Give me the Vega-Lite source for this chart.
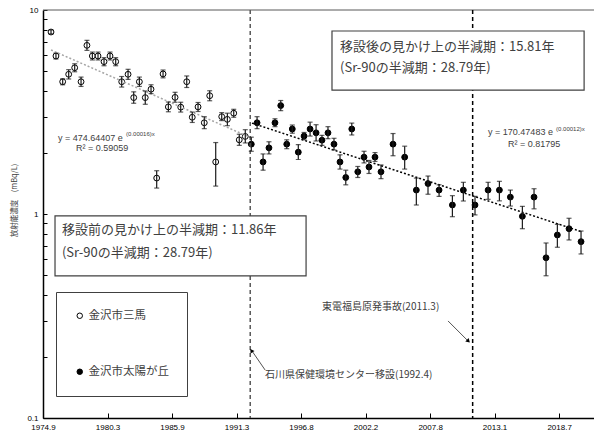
{
  "$schema": "https://vega.github.io/schema/vega-lite/v6.json",
  "width": 551,
  "height": 408,
  "autosize": {"type": "none"},
  "padding": {"left": 43, "top": 10, "right": 0, "bottom": 19},
  "background": "white",
  "config": {"view": {"stroke": null}, "font": "Liberation Sans"},
  "datasets": {
    "one": [{}],
    "obs": [
      {"series": "金沢市三馬", "year": 1975.42, "value": 7.80, "lo": 7.63, "hi": 7.98},
      {"series": "金沢市三馬", "year": 1975.84, "value": 5.95, "lo": 5.75, "hi": 6.15},
      {"series": "金沢市三馬", "year": 1976.41, "value": 4.45, "lo": 4.30, "hi": 4.60},
      {"series": "金沢市三馬", "year": 1976.92, "value": 4.84, "lo": 4.59, "hi": 5.10},
      {"series": "金沢市三馬", "year": 1977.43, "value": 5.21, "lo": 4.98, "hi": 5.45},
      {"series": "金沢市三馬", "year": 1977.97, "value": 4.45, "lo": 4.22, "hi": 4.69},
      {"series": "金沢市三馬", "year": 1978.47, "value": 6.71, "lo": 6.34, "hi": 7.10},
      {"series": "金沢市三馬", "year": 1978.93, "value": 5.95, "lo": 5.69, "hi": 6.22},
      {"series": "金沢市三馬", "year": 1979.41, "value": 5.95, "lo": 5.69, "hi": 6.22},
      {"series": "金沢市三馬", "year": 1979.92, "value": 5.58, "lo": 5.33, "hi": 5.84},
      {"series": "金沢市三馬", "year": 1980.43, "value": 5.95, "lo": 5.69, "hi": 6.22},
      {"series": "金沢市三馬", "year": 1980.91, "value": 5.58, "lo": 5.33, "hi": 5.84},
      {"series": "金沢市三馬", "year": 1981.42, "value": 4.45, "lo": 4.19, "hi": 4.72},
      {"series": "金沢市三馬", "year": 1981.96, "value": 4.84, "lo": 4.57, "hi": 5.12},
      {"series": "金沢市三馬", "year": 1982.44, "value": 3.72, "lo": 3.49, "hi": 3.97},
      {"series": "金沢市三馬", "year": 1982.92, "value": 4.45, "lo": 4.22, "hi": 4.69},
      {"series": "金沢市三馬", "year": 1983.42, "value": 3.72, "lo": 3.45, "hi": 4.01},
      {"series": "金沢市三馬", "year": 1983.91, "value": 4.09, "lo": 3.89, "hi": 4.30},
      {"series": "金沢市三馬", "year": 1984.39, "value": 1.50, "lo": 1.34, "hi": 1.63},
      {"series": "金沢市三馬", "year": 1984.93, "value": 4.86, "lo": 4.65, "hi": 5.08},
      {"series": "金沢市三馬", "year": 1985.38, "value": 3.35, "lo": 3.17, "hi": 3.54},
      {"series": "金沢市三馬", "year": 1985.95, "value": 3.73, "lo": 3.53, "hi": 3.95},
      {"series": "金沢市三馬", "year": 1986.43, "value": 3.34, "lo": 3.16, "hi": 3.53},
      {"series": "金沢市三馬", "year": 1986.94, "value": 4.45, "lo": 4.17, "hi": 4.75},
      {"series": "金沢市三馬", "year": 1987.41, "value": 2.98, "lo": 2.81, "hi": 3.16},
      {"series": "金沢市三馬", "year": 1987.90, "value": 3.35, "lo": 3.18, "hi": 3.52},
      {"series": "金沢市三馬", "year": 1988.43, "value": 2.80, "lo": 2.62, "hi": 3.00},
      {"series": "金沢市三馬", "year": 1988.89, "value": 3.80, "lo": 3.59, "hi": 4.02},
      {"series": "金沢市三馬", "year": 1989.40, "value": 1.80, "lo": 1.37, "hi": 2.24},
      {"series": "金沢市三馬", "year": 1989.91, "value": 3.00, "lo": 2.87, "hi": 3.14},
      {"series": "金沢市三馬", "year": 1990.39, "value": 2.91, "lo": 2.71, "hi": 3.12},
      {"series": "金沢市三馬", "year": 1990.93, "value": 3.12, "lo": 2.98, "hi": 3.26},
      {"series": "金沢市三馬", "year": 1991.40, "value": 2.31, "lo": 2.17, "hi": 2.46},
      {"series": "金沢市三馬", "year": 1991.91, "value": 2.40, "lo": 2.23, "hi": 2.59},
      {"series": "金沢市太陽が丘", "year": 1992.42, "value": 2.20, "lo": 2.03, "hi": 2.38},
      {"series": "金沢市太陽が丘", "year": 1992.91, "value": 2.80, "lo": 2.62, "hi": 3.00},
      {"series": "金沢市太陽が丘", "year": 1993.42, "value": 1.80, "lo": 1.64, "hi": 1.97},
      {"series": "金沢市太陽が丘", "year": 1993.92, "value": 2.11, "lo": 1.97, "hi": 2.26},
      {"series": "金沢市太陽が丘", "year": 1994.43, "value": 2.80, "lo": 2.68, "hi": 2.93},
      {"series": "金沢市太陽が丘", "year": 1994.92, "value": 3.40, "lo": 3.21, "hi": 3.60},
      {"series": "金沢市太陽が丘", "year": 1995.43, "value": 2.20, "lo": 2.09, "hi": 2.31},
      {"series": "金沢市太陽が丘", "year": 1995.90, "value": 2.61, "lo": 2.49, "hi": 2.73},
      {"series": "金沢市太陽が丘", "year": 1996.41, "value": 2.01, "lo": 1.85, "hi": 2.19},
      {"series": "金沢市太陽が丘", "year": 1996.90, "value": 2.41, "lo": 2.31, "hi": 2.51},
      {"series": "金沢市太陽が丘", "year": 1997.41, "value": 2.61, "lo": 2.41, "hi": 2.82},
      {"series": "金沢市太陽が丘", "year": 1997.92, "value": 2.50, "lo": 2.28, "hi": 2.74},
      {"series": "金沢市太陽が丘", "year": 1998.42, "value": 2.30, "lo": 2.17, "hi": 2.43},
      {"series": "金沢市太陽が丘", "year": 1998.93, "value": 2.50, "lo": 2.34, "hi": 2.68},
      {"series": "金沢市太陽が丘", "year": 1999.44, "value": 2.20, "lo": 2.06, "hi": 2.35},
      {"series": "金沢市太陽が丘", "year": 1999.95, "value": 1.80, "lo": 1.66, "hi": 1.95},
      {"series": "金沢市太陽が丘", "year": 2000.44, "value": 1.51, "lo": 1.39, "hi": 1.64},
      {"series": "金沢市太陽が丘", "year": 2000.95, "value": 2.61, "lo": 2.44, "hi": 2.79},
      {"series": "金沢市太陽が丘", "year": 2001.46, "value": 1.61, "lo": 1.51, "hi": 1.71},
      {"series": "金沢市太陽が丘", "year": 2001.99, "value": 1.90, "lo": 1.78, "hi": 2.03},
      {"series": "金沢市太陽が丘", "year": 2002.41, "value": 1.70, "lo": 1.58, "hi": 1.83},
      {"series": "金沢市太陽が丘", "year": 2002.92, "value": 1.90, "lo": 1.81, "hi": 2.00},
      {"series": "金沢市太陽が丘", "year": 2003.43, "value": 1.61, "lo": 1.49, "hi": 1.74},
      {"series": "金沢市太陽が丘", "year": 2004.45, "value": 2.20, "lo": 1.93, "hi": 2.48},
      {"series": "金沢市太陽が丘", "year": 2005.44, "value": 1.90, "lo": 1.66, "hi": 2.15},
      {"series": "金沢市太陽が丘", "year": 2006.43, "value": 1.31, "lo": 1.107, "hi": 1.50},
      {"series": "金沢市太陽が丘", "year": 2007.42, "value": 1.41, "lo": 1.25, "hi": 1.535},
      {"series": "金沢市太陽が丘", "year": 2008.36, "value": 1.31, "lo": 1.22, "hi": 1.39},
      {"series": "金沢市太陽が丘", "year": 2009.49, "value": 1.107, "lo": 0.97, "hi": 1.23},
      {"series": "金沢市太陽が丘", "year": 2010.42, "value": 1.31, "lo": 1.158, "hi": 1.43},
      {"series": "金沢市太陽が丘", "year": 2011.41, "value": 1.107, "lo": 0.99, "hi": 1.22},
      {"series": "金沢市太陽が丘", "year": 2012.52, "value": 1.31, "lo": 1.18, "hi": 1.43},
      {"series": "金沢市太陽が丘", "year": 2013.48, "value": 1.31, "lo": 1.16, "hi": 1.446},
      {"series": "金沢市太陽が丘", "year": 2014.41, "value": 1.21, "lo": 1.094, "hi": 1.31},
      {"series": "金沢市太陽が丘", "year": 2015.43, "value": 0.974, "lo": 0.847, "hi": 1.09},
      {"series": "金沢市太陽が丘", "year": 2016.42, "value": 1.21, "lo": 1.06, "hi": 1.33},
      {"series": "金沢市太陽が丘", "year": 2017.44, "value": 0.610, "lo": 0.498, "hi": 0.721},
      {"series": "金沢市太陽が丘", "year": 2018.40, "value": 0.789, "lo": 0.687, "hi": 0.890},
      {"series": "金沢市太陽が丘", "year": 2019.39, "value": 0.847, "lo": 0.746, "hi": 0.953},
      {"series": "金沢市太陽が丘", "year": 2020.41, "value": 0.732, "lo": 0.637, "hi": 0.825}
    ],
    "trendA": [
      {"year": 1975.42, "value": 6.37},
      {"year": 1992.23, "value": 2.386}
    ],
    "trendB": [
      {"year": 1992.48, "value": 2.79},
      {"year": 2020.5, "value": 0.817}
    ]
  },
  "layer": [
    {
      "data": {"name": "obs"},
      "mark": {"type": "point", "shape": "circle", "filled": true, "stroke": "black", "strokeWidth": 1, "opacity": 1, "size": 34},
      "encoding": {
        "x": {
          "field": "year", "type": "quantitative",
          "scale": {"domain": [1974.74, 2021.51], "zero": false, "nice": false},
          "axis": {
            "title": null,
            "values": [1974.74, 1980.22, 1985.69, 1991.17, 1996.64, 2002.12, 2007.60, 2013.07, 2018.55],
            "labelExpr": "floor(datum.value) + '.' + (floor((datum.value - floor(datum.value)) * 12) + 1)",
            "grid": false,
            "domainColor": "#000000",
            "domainWidth": 1.5,
            "tickColor": "#000000",
            "tickSize": -5,
            "labelFontSize": 8,
            "labelColor": "#000000",
            "labelPadding": 10,
            "labelFlush": false,
            "labelOverlap": false
          }
        },
        "y": {
          "field": "value", "type": "quantitative",
          "scale": {"type": "log", "domain": [0.1, 10], "nice": false},
          "axis": {
            "title": "放射能濃度　(mBq/L)",
            "values": [0.1, 0.2, 0.3, 0.4, 0.5, 0.6, 0.7, 0.8, 0.9, 1, 2, 3, 4, 5, 6, 7, 8, 9, 10],
            "labelExpr": "datum.value == 10 ? '10' : datum.value == 1 ? '1' : datum.value == 0.1 ? '0.1' : ''",
            "grid": false,
            "domainColor": "#000000",
            "domainWidth": 1.5,
            "tickColor": "#000000",
            "tickSize": -4,
            "labelFontSize": 8,
            "labelColor": "#000000",
            "labelPadding": 9,
            "labelOverlap": false,
            "titleFont": "Noto Sans CJK JP",
            "titleFontSize": 7.5,
            "titleFontWeight": "normal",
            "titleColor": "#404040",
            "titleX": -29,
            "titleY": 190,
            "titleAngle": -90,
            "titleAlign": "center",
            "titleBaseline": "middle"
          }
        },
        "fill": {
          "field": "series", "type": "nominal",
          "scale": {"domain": ["金沢市三馬", "金沢市太陽が丘"], "range": ["white", "black"]},
          "legend": {
            "title": null,
            "orient": "none",
            "legendX": 13,
            "legendY": 282,
            "strokeColor": "#404040",
            "fillColor": "white",
            "padding": 18,
            "rowPadding": 43,
            "labelFont": "Noto Sans CJK JP",
            "labelFontSize": 11.5,
            "labelColor": "#404040",
            "labelOffset": 3,
            "symbolType": "circle",
            "symbolSize": 30,
            "symbolStrokeColor": "black",
            "symbolStrokeWidth": 1
          }
        }
      }
    },
    {
      "data": {"name": "one"},
      "mark": {"type": "rule", "color": "#595959", "strokeWidth": 1},
      "encoding": {"y": {"datum": 10, "type": "quantitative"}}
    },
    {
      "data": {"name": "one"},
      "mark": {"type": "rule", "color": "#595959", "strokeWidth": 1.5, "strokeDash": [4, 3]},
      "encoding": {"x": {"datum": 1992.33, "type": "quantitative"}}
    },
    {
      "data": {"name": "one"},
      "mark": {"type": "rule", "color": "#000000", "strokeWidth": 1.5, "strokeDash": [4, 3]},
      "encoding": {"x": {"datum": 2011.21, "type": "quantitative"}}
    },
    {
      "data": {"name": "trendA"},
      "mark": {"type": "line", "color": "#a6a6a6", "strokeWidth": 1.5, "strokeDash": [2, 2]},
      "encoding": {
        "x": {"field": "year", "type": "quantitative"},
        "y": {"field": "value", "type": "quantitative"}
      }
    },
    {
      "data": {"name": "trendB"},
      "mark": {"type": "line", "color": "#000000", "strokeWidth": 1.5, "strokeDash": [2, 2]},
      "encoding": {
        "x": {"field": "year", "type": "quantitative"},
        "y": {"field": "value", "type": "quantitative"}
      }
    },
    {
      "data": {"name": "obs"},
      "mark": {"type": "rule", "color": "#1a1a1a", "strokeWidth": 1.2},
      "encoding": {
        "x": {"field": "year", "type": "quantitative"},
        "y": {"field": "lo", "type": "quantitative"},
        "y2": {"field": "hi"}
      }
    },
    {
      "data": {"name": "obs"},
      "mark": {"type": "tick", "orient": "horizontal", "color": "#1a1a1a", "size": 5, "thickness": 1.2},
      "encoding": {
        "x": {"field": "year", "type": "quantitative"},
        "y": {"field": "lo", "type": "quantitative"}
      }
    },
    {
      "data": {"name": "obs"},
      "mark": {"type": "tick", "orient": "horizontal", "color": "#1a1a1a", "size": 5, "thickness": 1.2},
      "encoding": {
        "x": {"field": "year", "type": "quantitative"},
        "y": {"field": "hi", "type": "quantitative"}
      }
    },
    {
      "data": {"name": "one"},
      "mark": {"type": "rect", "fill": "white", "stroke": "#404040", "strokeWidth": 1.2},
      "encoding": {
        "x": {"datum": 1999.27, "type": "quantitative"},
        "x2": {"datum": 2020.67},
        "y": {"datum": 7.89, "type": "quantitative"},
        "y2": {"datum": 4.05}
      }
    },
    {
      "data": {"name": "one"},
      "mark": {"type": "rect", "fill": "white", "stroke": "#404040", "strokeWidth": 1.2},
      "encoding": {
        "x": {"datum": 1975.76, "type": "quantitative"},
        "x2": {"datum": 1997.07},
        "y": {"datum": 0.978, "type": "quantitative"},
        "y2": {"datum": 0.497}
      }
    },
    {
      "data": {"name": "one"},
      "mark": {"type": "text", "align": "left", "baseline": "middle", "font": "Noto Sans CJK JP", "fontSize": 13, "color": "#404040"},
      "encoding": {
        "x": {"datum": 1999.95, "type": "quantitative"},
        "y": {"datum": 6.59, "type": "quantitative"},
        "text": {"value": "移設後の見かけ上の半減期：15.81年"}
      }
    },
    {
      "data": {"name": "one"},
      "mark": {"type": "text", "align": "left", "baseline": "middle", "font": "Noto Sans CJK JP", "fontSize": 13, "color": "#404040"},
      "encoding": {
        "x": {"datum": 1999.95, "type": "quantitative"},
        "y": {"datum": 5.20, "type": "quantitative"},
        "text": {"value": "(Sr-90の半減期：28.79年)"}
      }
    },
    {
      "data": {"name": "one"},
      "mark": {"type": "text", "align": "left", "baseline": "middle", "font": "Noto Sans CJK JP", "fontSize": 13, "color": "#404040"},
      "encoding": {
        "x": {"datum": 1976.35, "type": "quantitative"},
        "y": {"datum": 0.835, "type": "quantitative"},
        "text": {"value": "移設前の見かけ上の半減期：11.86年"}
      }
    },
    {
      "data": {"name": "one"},
      "mark": {"type": "text", "align": "left", "baseline": "middle", "font": "Noto Sans CJK JP", "fontSize": 13, "color": "#404040"},
      "encoding": {
        "x": {"datum": 1976.35, "type": "quantitative"},
        "y": {"datum": 0.644, "type": "quantitative"},
        "text": {"value": "(Sr-90の半減期：28.79年)"}
      }
    },
    {
      "data": {"name": "one"},
      "mark": {"type": "text", "align": "left", "baseline": "middle", "font": "Noto Sans CJK JP", "fontSize": 10, "color": "#404040"},
      "encoding": {
        "x": {"datum": 1993.59, "type": "quantitative"},
        "y": {"datum": 0.1625, "type": "quantitative"},
        "text": {"value": "石川県保健環境センター移設(1992.4)"}
      }
    },
    {
      "data": {"name": "one"},
      "mark": {"type": "text", "align": "left", "baseline": "middle", "font": "Noto Sans CJK JP", "fontSize": 10, "color": "#404040"},
      "encoding": {
        "x": {"datum": 1998.42, "type": "quantitative"},
        "y": {"datum": 0.350, "type": "quantitative"},
        "text": {"value": "東電福島原発事故(2011.3)"}
      }
    },
    {
      "data": {"name": "one"},
      "mark": {"type": "rule", "color": "#262626", "strokeWidth": 0.8},
      "encoding": {
        "x": {"datum": 1993.59, "type": "quantitative"},
        "x2": {"datum": 1992.41},
        "y": {"datum": 0.172, "type": "quantitative"},
        "y2": {"datum": 0.216}
      }
    },
    {
      "data": {"name": "one"},
      "mark": {"type": "point", "shape": "triangle-up", "filled": true, "color": "#000000", "size": 22, "angle": 326, "opacity": 1},
      "encoding": {
        "x": {"datum": 1992.43, "type": "quantitative"},
        "y": {"datum": 0.214, "type": "quantitative"}
      }
    },
    {
      "data": {"name": "one"},
      "mark": {"type": "rule", "color": "#262626", "strokeWidth": 0.8},
      "encoding": {
        "x": {"datum": 2009.12, "type": "quantitative"},
        "x2": {"datum": 2010.90},
        "y": {"datum": 0.299, "type": "quantitative"},
        "y2": {"datum": 0.236}
      }
    },
    {
      "data": {"name": "one"},
      "mark": {"type": "point", "shape": "triangle-up", "filled": true, "color": "#000000", "size": 22, "angle": 135, "opacity": 1},
      "encoding": {
        "x": {"datum": 2010.85, "type": "quantitative"},
        "y": {"datum": 0.238, "type": "quantitative"}
      }
    },
    {
      "data": {"name": "one"},
      "mark": {"type": "text", "align": "left", "baseline": "middle", "fontSize": 9, "color": "#404040"},
      "encoding": {
        "x": {"datum": 1976.01, "type": "quantitative"},
        "y": {"datum": 2.371, "type": "quantitative"},
        "text": {"value": "y = 474.64407 e"}
      }
    },
    {
      "data": {"name": "one"},
      "mark": {"type": "text", "align": "left", "baseline": "middle", "fontSize": 6, "color": "#404040"},
      "encoding": {
        "x": {"datum": 1981.79, "type": "quantitative"},
        "y": {"datum": 2.466, "type": "quantitative"},
        "text": {"value": "(0.00016)x"}
      }
    },
    {
      "data": {"name": "one"},
      "mark": {"type": "text", "align": "left", "baseline": "middle", "fontSize": 9, "color": "#404040"},
      "encoding": {
        "x": {"datum": 1977.54, "type": "quantitative"},
        "y": {"datum": 2.106, "type": "quantitative"},
        "text": {"value": "R² = 0.59059"}
      }
    },
    {
      "data": {"name": "one"},
      "mark": {"type": "text", "align": "left", "baseline": "middle", "fontSize": 9, "color": "#404040"},
      "encoding": {
        "x": {"datum": 2012.52, "type": "quantitative"},
        "y": {"datum": 2.52, "type": "quantitative"},
        "text": {"value": "y = 170.47483 e"}
      }
    },
    {
      "data": {"name": "one"},
      "mark": {"type": "text", "align": "left", "baseline": "middle", "fontSize": 6, "color": "#404040"},
      "encoding": {
        "x": {"datum": 2018.29, "type": "quantitative"},
        "y": {"datum": 2.61, "type": "quantitative"},
        "text": {"value": "(0.00012)x"}
      }
    },
    {
      "data": {"name": "one"},
      "mark": {"type": "text", "align": "left", "baseline": "middle", "fontSize": 9, "color": "#404040"},
      "encoding": {
        "x": {"datum": 2014.21, "type": "quantitative"},
        "y": {"datum": 2.20, "type": "quantitative"},
        "text": {"value": "R² = 0.81795"}
      }
    }
  ]
}
